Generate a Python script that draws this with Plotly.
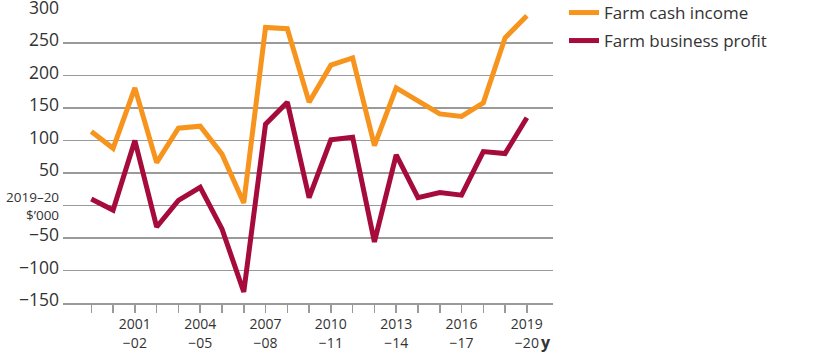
import plotly.graph_objects as go

years = ["1999-00","2000-01","2001-02","2002-03","2003-04","2004-05","2005-06","2006-07",
         "2007-08","2008-09","2009-10","2010-11","2011-12","2012-13","2013-14","2014-15",
         "2015-16","2016-17","2017-18","2018-19","2019-20"]
farm_cash_income = [114, 88, 181, 66, 119, 122, 79, 4, 274, 272, 159, 216, 227, 92, 181, 160,
                    141, 137, 158, 258, 292]
farm_business_profit = [10, -7, 100, -33, 8, 28, -36, -133, 125, 159, 12, 101, 105, -56, 78, 12,
                        20, 16, 83, 80, 135]
x_tick_labels = {"2001-02": "2001<br>\u221202", "2004-05": "2004<br>\u221205",
                 "2007-08": "2007<br>\u221208", "2010-11": "2010<br>\u221211",
                 "2013-14": "2013<br>\u221214", "2016-17": "2016<br>\u221217",
                 "2019-20": "2019<br>\u221220"}
y_tick_vals = [-150, -100, -50, 0, 50, 100, 150, 200, 250, 300]

FONT = "Open Sans"
GRID = "#9a9a9a"
TXT = "#333333"

W, H = 815, 356
L, R, T, B = 63, 262, 10, 53
PH = H - T - B
PW = W - L - R

idx = list(range(len(years)))

fig = go.Figure()
fig.add_trace(go.Scatter(x=idx, y=farm_cash_income, mode="lines", name="Farm cash income",
                         line=dict(color="#F7941D", width=5), legend="legend"))
fig.add_trace(go.Scatter(x=idx, y=farm_business_profit, mode="lines", name="Farm business profit",
                         line=dict(color="#A50B3B", width=5), legend="legend2"))

ytext = []
for v in y_tick_vals:
    if v == 0:
        ytext.append("")
    elif v < 0:
        ytext.append("\u2212" + str(-v))
    else:
        ytext.append(str(v))

leg_common = dict(xanchor="left", yanchor="top", xref="paper", yref="paper",
                  font=dict(size=17, family=FONT, color=TXT),
                  bgcolor="rgba(0,0,0,0)", itemwidth=30)
leg_x = 1 + (564 - (L + PW)) / PW
leg_y1 = 1 + 15 / PH
leg_y2 = 1 - 13 / PH

fig.update_layout(
    width=W, height=H,
    margin=dict(l=L, r=R, t=T, b=B, autoexpand=False),
    paper_bgcolor="white", plot_bgcolor="white",
    font=dict(family=FONT, color=TXT),
    showlegend=True,
    legend=dict(x=leg_x, y=leg_y1, **leg_common),
    legend2=dict(x=leg_x, y=leg_y2, **leg_common),
    xaxis=dict(range=[-1.3, 21.2], tickmode="array", tickvals=idx,
               ticktext=[x_tick_labels.get(y, "") for y in years],
               ticks="outside", ticklen=8, tickwidth=1.5, tickcolor=GRID,
               showgrid=False, zeroline=False, showline=True, linecolor=GRID, linewidth=1.5,
               automargin=False, ticklabeloverflow="allow",
               tickfont=dict(size=14, family=FONT, color=TXT)),
    yaxis=dict(range=[-150, 300.8], tickmode="array", tickvals=y_tick_vals, ticktext=ytext,
               showgrid=True, gridcolor=GRID, gridwidth=1.5, zeroline=False, showline=False,
               ticks="", ticklabelstandoff=3, ticklabelshift=-3, automargin=False,
               ticklabeloverflow="allow",
               tickfont=dict(size=17.5, family=FONT, color=TXT)),
)

fig.add_annotation(xref="paper", yref="y", x=-0.004, y=0, xanchor="right", yanchor="middle",
                   text="2019\u201320<br>$\u2019000", showarrow=False, align="right",
                   font=dict(size=13.5, family=FONT, color=TXT))
fig.add_annotation(xref="x", yref="paper", x=20, y=-0.133, xshift=12, xanchor="left",
                   yanchor="middle", text="<b>y</b>", showarrow=False,
                   font=dict(size=16, family=FONT, color=TXT))

fig.write_html("out.html", config={"displayModeBar": False, "staticPlot": True},
               post_script="document.body.style.margin='0';document.body.style.overflow='hidden';")
